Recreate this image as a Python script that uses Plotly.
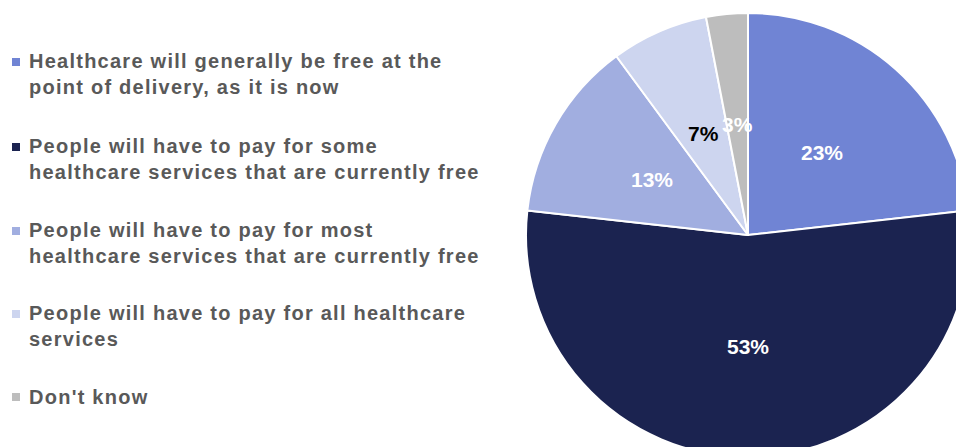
import math
import plotly.graph_objects as go

# Survey answers and shares (%)
categories = [
    "Healthcare will generally be free at the<br>point of delivery, as it is now",
    "People will have to pay for some<br>healthcare services that are currently free",
    "People will have to pay for most<br>healthcare services that are currently free",
    "People will have to pay for all healthcare<br>services",
    "Don't know",
]
values = [23, 53, 13, 7, 3]
colors = ["#7084d4", "#1b2350", "#a1aee0", "#cdd5ef", "#bdbdbd"]
label_colors = ["white", "white", "white", "black", "white"]

# Canvas slightly larger than the viewport so the pie runs off the right/bottom edges
W, H = 990, 470
FONT = "Liberation Sans, Arial, sans-serif"

# Pie placement in pixels
CX, CY, R = 748, 235, 222
LABEL_R = 0.5  # labels sit halfway out along each slice's mid-angle


def px(x):
    return x / W


def py(y):
    return 1 - y / H


fig = go.Figure()
fig.add_trace(go.Pie(
    values=values,
    labels=[c.replace("<br>", " ") for c in categories],
    marker=dict(colors=colors, line=dict(color="white", width=2)),
    sort=False,
    direction="clockwise",
    rotation=0,
    textinfo="none",
    domain=dict(x=[px(CX - R), px(CX + R)], y=[py(CY + R), py(CY - R)]),
    showlegend=False,
    hoverinfo="label+value",
))

annotations = []

# Percentage labels at each slice's mid-angle
total = sum(values)
cum = 0
for v, tc in zip(values, label_colors):
    theta = 2 * math.pi * (cum + v / 2) / total
    cum += v
    lx = CX + LABEL_R * R * math.sin(theta)
    ly = CY - LABEL_R * R * math.cos(theta)
    annotations.append(dict(
        x=px(lx), y=py(ly), xref="paper", yref="paper",
        xanchor="center", yanchor="middle",
        text=f"<b>{v}%</b>", showarrow=False,
        font=dict(family=FONT, size=21, color=tc),
    ))

# Legend drawn as swatches + wrapped text
centers = [74, 159, 243, 326, 397]
first_line = [62, 147, 231, 314, 397]
shapes = []
for cat, col, cy, fy in zip(categories, colors, centers, first_line):
    annotations.append(dict(
        x=px(27), y=py(cy), xref="paper", yref="paper",
        xanchor="left", yanchor="middle", align="left",
        text=f"<b>{cat}</b>", showarrow=False,
        font=dict(family=FONT, size=20, color="#595959"),
    ))
    shapes.append(dict(
        type="rect", xref="paper", yref="paper",
        x0=px(12), x1=px(20), y0=py(fy + 4), y1=py(fy - 4),
        fillcolor=col, line=dict(width=0),
    ))

fig.update_layout(
    width=W, height=H,
    margin=dict(l=0, r=0, t=0, b=0),
    paper_bgcolor="white",
    plot_bgcolor="white",
    annotations=annotations,
    shapes=shapes,
)

# Slightly looser tracking on the legend text
post = """
document.body.style.margin='0';
document.body.style.overflow='hidden';
document.querySelectorAll('.annotation-text').forEach(function(t){
  if (t.textContent.indexOf('%') === -1) { t.style.letterSpacing = '1.25px'; }
});
"""

fig.write_html("out.html", post_script=post)
